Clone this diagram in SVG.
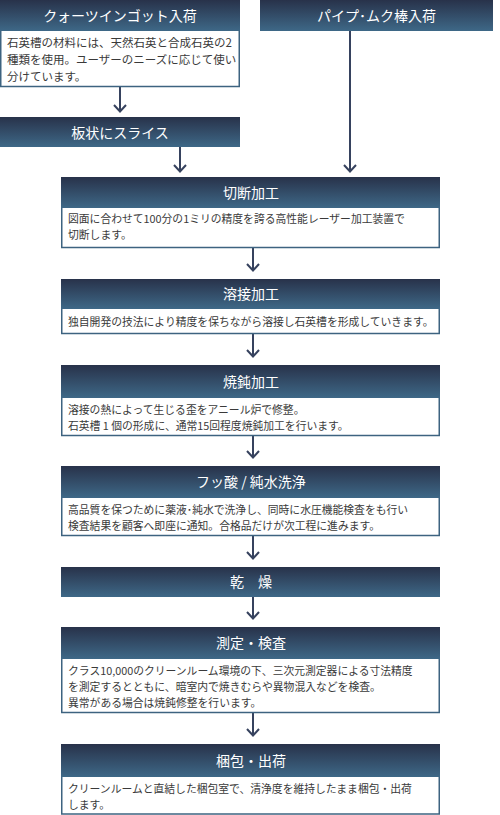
<svg xmlns="http://www.w3.org/2000/svg" width="500" height="815" viewBox="0 0 500 815">
<defs>
<linearGradient id="hg" x1="0" y1="0" x2="0" y2="1">
<stop offset="0" stop-color="#28324a"/>
<stop offset="1" stop-color="#3e6887"/>
</linearGradient>
<style>
.hd{fill:url(#hg)}
.bd{fill:#fff;stroke:#3d6380;stroke-width:1.5}
.tt{font-family:"Noto Sans CJK JP","Noto Sans",sans-serif;font-size:14px;fill:#fff;text-anchor:middle}
.tx{font-family:"Noto Sans CJK JP","Noto Sans",sans-serif;font-size:10.8px;fill:#3a3a3a}
.ta{font-family:"Noto Sans CJK JP","Noto Sans",sans-serif;font-size:11.5px;fill:#3a3a3a}
.cn{fill:none;stroke:#36425e;stroke-width:2}
</style>
</defs>
<rect width="500" height="815" fill="#fff"/>
<g id="connectors">
<line class="cn" x1="120" y1="87" x2="120" y2="111"/><polyline class="cn" points="114,105 120,111.5 126,105"/>
<line class="cn" x1="180" y1="147" x2="180" y2="171"/><polyline class="cn" points="174,165 180,171.5 186,165"/>
<line class="cn" x1="350" y1="31" x2="350" y2="171"/><polyline class="cn" points="344,165 350,171.5 356,165"/>
<line class="cn" x1="253" y1="248" x2="253" y2="270"/><polyline class="cn" points="247,264 253,270.5 259,264"/>
<line class="cn" x1="253" y1="334" x2="253" y2="356"/><polyline class="cn" points="247,350 253,356.5 259,350"/>
<line class="cn" x1="253" y1="436" x2="253" y2="457"/><polyline class="cn" points="247,451 253,457.5 259,451"/>
<line class="cn" x1="253" y1="536" x2="253" y2="558"/><polyline class="cn" points="247,552 253,558.5 259,552"/>
<line class="cn" x1="253" y1="597" x2="253" y2="618"/><polyline class="cn" points="247,612 253,618.5 259,612"/>
<line class="cn" x1="253" y1="713" x2="253" y2="735"/><polyline class="cn" points="247,729 253,735.5 259,729"/>
</g>
<g id="quartz">
<rect class="bd" x="0.75" y="30" width="238.5" height="56.5"/>
<rect class="hd" x="0" y="0" width="240" height="31"/>
<text class="tt" x="120" y="21">クォーツインゴット入荷</text>
<text class="ta" x="7" y="47">石英槽の材料には、天然石英と合成石英の2</text>
<text class="ta" x="7" y="64">種類を使用。ユーザーのニーズに応じて使い</text>
<text class="ta" x="7" y="81">分けています。</text>
</g>
<g id="pipe">
<rect class="hd" x="260" y="0" width="233" height="31"/>
<text class="tt" x="376.5" y="21">パイプ･ムク棒入荷</text>
</g>
<g id="slice">
<rect class="hd" x="0" y="117" width="240" height="30"/>
<text class="tt" x="120" y="137.5">板状にスライス</text>
</g>
<g id="cut">
<rect class="bd" x="61.75" y="207" width="377.5" height="40.5"/>
<rect class="hd" x="61" y="177" width="379" height="31"/>
<text class="tt" x="251" y="197.5">切断加工</text>
<text class="tx" x="68" y="223">図面に合わせて100分の1ミリの精度を誇る高性能レーザー加工装置で</text>
<text class="tx" x="68" y="239">切断します。</text>
</g>
<g id="weld">
<rect class="bd" x="61.75" y="308" width="377.5" height="25.5"/>
<rect class="hd" x="61" y="279" width="379" height="30"/>
<text class="tt" x="251" y="299">溶接加工</text>
<text class="tx" x="68" y="325.5">独自開発の技法により精度を保ちながら溶接し石英槽を形成していきます。</text>
</g>
<g id="anneal">
<rect class="bd" x="61.75" y="397" width="377.5" height="38.5"/>
<rect class="hd" x="61" y="365" width="379" height="33"/>
<text class="tt" x="251" y="386.5">焼鈍加工</text>
<text class="tx" x="68" y="414">溶接の熱によって生じる歪をアニール炉で修整。</text>
<text class="tx" x="68" y="430">石英槽 1 個の形成に、通常15回程度焼鈍加工を行います。</text>
</g>
<g id="wash">
<rect class="bd" x="61.75" y="497" width="377.5" height="38.5"/>
<rect class="hd" x="61" y="466" width="379" height="32"/>
<text class="tt" x="251" y="487">フッ酸 / 純水洗浄</text>
<text class="tx" x="68" y="514">高品質を保つために薬液･純水で洗浄し、同時に水圧機能検査をも行い</text>
<text class="tx" x="68" y="530">検査結果を顧客へ即座に通知。合格品だけが次工程に進みます。</text>
</g>
<g id="dry">
<rect class="hd" x="61" y="567" width="379" height="30"/>
<text class="tt" x="251" y="587">乾　燥</text>
</g>
<g id="measure">
<rect class="bd" x="61.75" y="658" width="377.5" height="54.5"/>
<rect class="hd" x="61" y="627" width="379" height="32"/>
<text class="tt" x="251" y="648">測定・検査</text>
<text class="tx" x="68" y="675">クラス10,000のクリーンルーム環境の下、三次元測定器による寸法精度</text>
<text class="tx" x="68" y="691">を測定するとともに、暗室内で焼きむらや異物混入などを検査。</text>
<text class="tx" x="68" y="707">異常がある場合は焼鈍修整を行います。</text>
</g>
<g id="pack">
<rect class="bd" x="61.75" y="776" width="377.5" height="38"/>
<rect class="hd" x="61" y="744" width="379" height="33"/>
<text class="tt" x="251" y="765.5">梱包・出荷</text>
<text class="tx" x="68" y="793">クリーンルームと直結した梱包室で、清浄度を維持したまま梱包・出荷</text>
<text class="tx" x="68" y="809">します。</text>
</g>
</svg>
